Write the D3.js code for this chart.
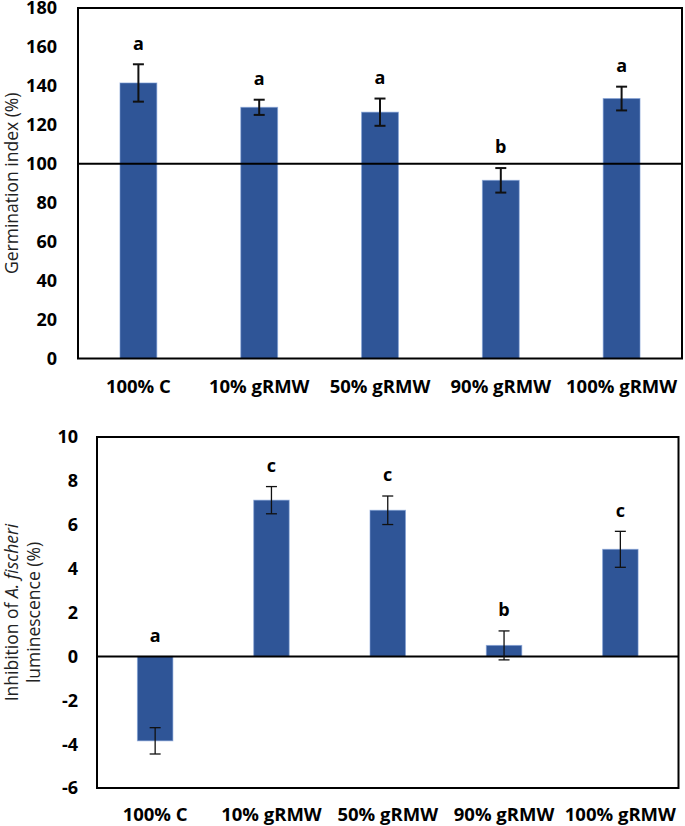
<!DOCTYPE html>
<html>
<head>
<meta charset="utf-8">
<script src="https://cdn.jsdelivr.net/npm/d3@7/dist/d3.min.js"></script>
<style>
  html, body { margin: 0; padding: 0; background: #fff; }
  svg { display: block; font-family: "Open Sans", "Noto Sans", sans-serif; }
</style>
</head>
<body>
<svg id="chart" width="685" height="826"></svg>
<script>
// Data.
const categories = ["100% C", "10% gRMW", "50% gRMW", "90% gRMW", "100% gRMW"];

// Panel 1: germination index (%)
const giValues = [141.5, 129.0, 126.5, 91.5, 133.5];
const giErrors = [9.6, 3.9, 7.0, 6.3, 6.1];
const giLetters = ["a", "a", "a", "b", "a"];
const giTicks = [0, 20, 40, 60, 80, 100, 120, 140, 160, 180];

// Panel 2: inhibition of A. fischeri luminescence (%)
const inhValues = [-3.85, 7.12, 6.66, 0.5, 4.88];
const inhErrors = [0.6, 0.62, 0.65, 0.66, 0.82];
const inhLetters = ["a", "c", "c", "b", "c"];
const inhTicks = [-6, -4, -2, 0, 2, 4, 6, 8, 10];

const BAR = "#2f5597";
const svg = d3.select("#chart");

function panel(opts) {
  const { left, right, top, bottom, domain, ticks, values, errors, letters,
          refValue, errWidth, tickRight, labelY, titleLines } = opts;

  const x = d3.scaleBand().domain(categories).range([left, right]).padding(0);
  const y = d3.scaleLinear().domain(domain).range([bottom, top]);
  const barW = x.bandwidth() * 0.305;

  const g = svg.append("g");
  const rows = categories.map((c, i) => ({ c, v: values[i], e: errors[i], l: letters[i] }));
  const cx = d => x(d.c) + x.bandwidth() / 2;

  // bars
  g.selectAll("rect.bar")
    .data(rows)
    .join("rect")
    .attr("class", "bar")
    .attr("x", d => cx(d) - barW / 2)
    .attr("width", barW)
    .attr("y", d => y(Math.max(0, d.v)))
    .attr("height", d => Math.abs(y(d.v) - y(0)))
    .attr("fill", BAR)
    .attr("stroke", "#7f9fd6")
    .attr("stroke-opacity", 0.6)
    .attr("stroke-width", 1);

  // reference line
  g.append("line")
    .attr("x1", left).attr("x2", right)
    .attr("y1", y(refValue)).attr("y2", y(refValue))
    .attr("stroke", "#000").attr("stroke-width", 2);

  // error bars
  const eb = g.selectAll("g.err").data(rows).join("g").attr("class", "err")
    .attr("stroke", "#111").attr("stroke-width", errWidth);
  eb.append("line")
    .attr("x1", cx).attr("x2", cx)
    .attr("y1", d => y(d.v + d.e)).attr("y2", d => y(d.v - d.e));
  eb.append("line")
    .attr("x1", d => cx(d) - 5.5).attr("x2", d => cx(d) + 5.5)
    .attr("y1", d => y(d.v + d.e)).attr("y2", d => y(d.v + d.e));
  eb.append("line")
    .attr("x1", d => cx(d) - 5.5).attr("x2", d => cx(d) + 5.5)
    .attr("y1", d => y(d.v - d.e)).attr("y2", d => y(d.v - d.e));

  // significance letters
  g.selectAll("text.sig").data(rows).join("text")
    .attr("class", "sig")
    .attr("x", cx)
    .attr("y", d => Math.min(y(d.v + d.e), y(0)) - 21)
    .attr("dy", "0.35em")
    .attr("text-anchor", "middle")
    .attr("font-size", 18).attr("font-weight", 700)
    .text(d => d.l);

  // frame
  g.append("rect")
    .attr("x", left).attr("y", top)
    .attr("width", right - left).attr("height", bottom - top)
    .attr("fill", "none").attr("stroke", "#000").attr("stroke-width", 2);

  // y tick labels
  g.selectAll("text.ytick").data(ticks).join("text")
    .attr("class", "ytick")
    .attr("x", tickRight).attr("y", d => y(d))
    .attr("dy", "0.36em")
    .attr("text-anchor", "end")
    .attr("font-size", 18).attr("font-weight", 700)
    .text(d => d);

  // x labels
  g.selectAll("text.xlab").data(categories).join("text")
    .attr("class", "xlab")
    .attr("x", d => x(d) + x.bandwidth() / 2)
    .attr("y", labelY).attr("dy", "0.35em")
    .attr("text-anchor", "middle")
    .attr("font-size", 18.5).attr("font-weight", 700)
    .text(d => d);

  // y title
  const cy = (top + bottom) / 2;
  titleLines.forEach(line => {
    const t = g.append("text")
      .attr("transform", `translate(${line.x},${cy}) rotate(-90)`)
      .attr("text-anchor", "middle")
      .attr("dy", "0.35em")
      .attr("font-size", 17.5).attr("fill", "#222");
    line.parts.forEach(p => {
      t.append("tspan").attr("font-style", p.italic ? "italic" : "normal").text(p.t);
    });
  });
}

panel({
  left: 78, right: 682, top: 8, bottom: 358.5,
  domain: [0, 180], ticks: giTicks,
  values: giValues, errors: giErrors, letters: giLetters,
  refValue: 100, errWidth: 2, tickRight: 57, labelY: 387,
  titleLines: [{ x: 11.5, parts: [{ t: "Germination index (%)" }] }]
});

panel({
  left: 97, right: 678.5, top: 437, bottom: 788,
  domain: [-6, 10], ticks: inhTicks,
  values: inhValues, errors: inhErrors, letters: inhLetters,
  refValue: 0, errWidth: 1.3, tickRight: 78, labelY: 815,
  titleLines: [
    { x: 11.5, parts: [{ t: "Inhibition of " }, { t: "A. fischeri", italic: true }] },
    { x: 34, parts: [{ t: "luminescence (%)" }] }
  ]
});
</script>
</body>
</html>
